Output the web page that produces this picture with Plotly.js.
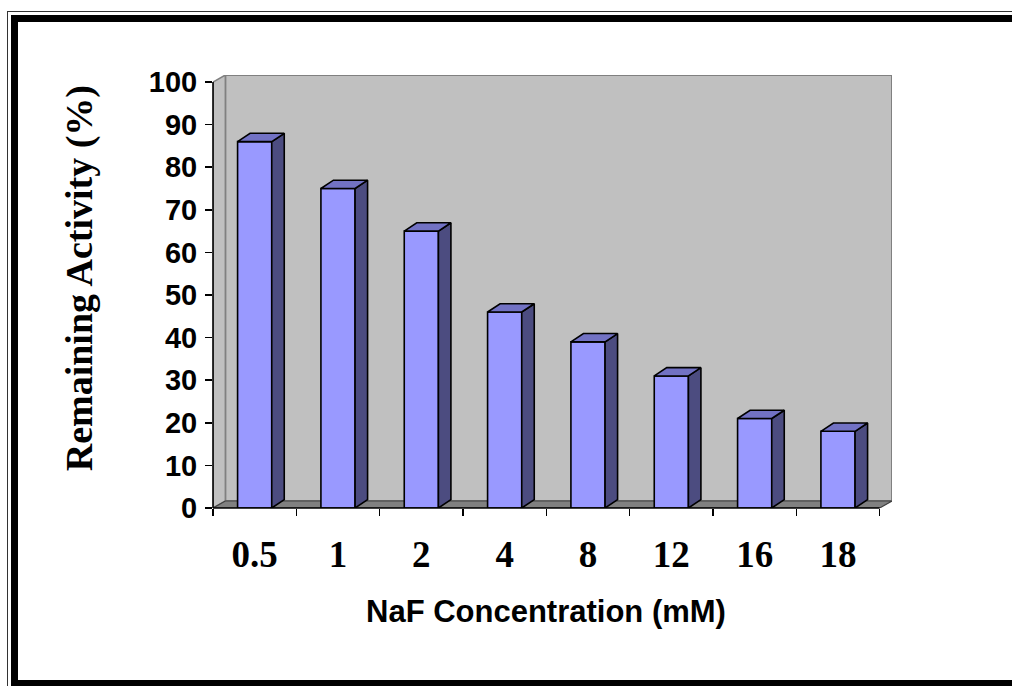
<!DOCTYPE html>
<html>
<head>
<meta charset="utf-8">
<script src="https://cdn.plot.ly/plotly-3.0.1.min.js"></script>
<style>
  html, body { margin:0; padding:0; background:#fff; overflow:hidden; }
  #chart { position:absolute; left:0; top:0; width:1012px; height:686px; }
  .f1 { position:absolute; left:7px; top:11px; width:1100px; height:720px; border:1.5px solid #333; box-sizing:border-box; pointer-events:none; }
  .f2 { position:absolute; left:11px; top:15px; width:1100px; height:672px; border:7px solid #000; box-sizing:border-box; pointer-events:none; }
</style>
</head>
<body>
<div id="chart"></div>
<div class="f1"></div>
<div class="f2"></div>
<script>
// ---- data ----
const categories = ['0.5', '1', '2', '4', '8', '12', '16', '18'];
const activity = [86, 75, 65, 46, 39, 31, 21, 18];
const yTicks = [0, 10, 20, 30, 40, 50, 60, 70, 80, 90, 100];

// ---- geometry (styling constants) ----
const BW = 0.41;     // bar front width (category units)
const BDX = 0.15;    // bar depth offset x
const BDY = 1.95;    // bar depth offset y
const WDX = 0.148;   // wall depth offset x
const WDY = 1.64;    // wall depth offset y
const YMAX = 100;
const xr = [-0.5, categories.length - 0.5 + WDX];
const yr = [0, YMAX + WDY];

const idx = categories.map((_, i) => i);

// side and top faces of the 3-D bars, built from the data
const sideX = [], sideY = [], topX = [], topY = [];
idx.forEach((i) => {
  const v = activity[i];
  const xl = i - BW / 2, xR = i + BW / 2;
  sideX.push(xR, xR + BDX, xR + BDX, xR, xR, null);
  sideY.push(0, BDY, v + BDY, v, 0, null);
  topX.push(xl, xl + BDX, xR + BDX, xR, xl, null);
  topY.push(v, v + BDY, v + BDY, v, v, null);
});

const traces = [
  {
    type: 'bar', x: idx, y: activity, width: BW,
    marker: { color: '#9999FF', line: { color: '#000', width: 1.6 } },
    hoverinfo: 'skip', showlegend: false
  },
  {
    type: 'scatter', mode: 'lines', x: sideX, y: sideY, fill: 'toself',
    fillcolor: '#4C4C80', line: { color: '#000', width: 1.6 },
    hoverinfo: 'skip', showlegend: false
  },
  {
    type: 'scatter', mode: 'lines', x: topX, y: topY, fill: 'toself',
    fillcolor: '#7272C4', line: { color: '#000', width: 1.6 },
    hoverinfo: 'skip', showlegend: false
  }
];

const x0 = -0.5, x1 = categories.length - 0.5;
const shapes = [
  // back wall
  { type: 'rect', xref: 'x', yref: 'y', layer: 'below',
    x0: x0 + WDX, x1: x1 + WDX, y0: WDY, y1: YMAX + WDY,
    fillcolor: '#C0C0C0', line: { color: '#808080', width: 2 } },
  // left side wall
  { type: 'path', xref: 'x', yref: 'y', layer: 'below',
    path: `M ${x0},0 L ${x0},${YMAX} L ${x0 + WDX},${YMAX + WDY} L ${x0 + WDX},${WDY} Z`,
    fillcolor: '#C0C0C0', line: { color: '#808080', width: 1.5 } },
  // floor
  { type: 'path', xref: 'x', yref: 'y', layer: 'below',
    path: `M ${x0},0 L ${x1},0 L ${x1 + WDX},${WDY} L ${x0 + WDX},${WDY} Z`,
    fillcolor: '#808080', line: { color: '#404040', width: 1.2 } },
  // y axis line
  { type: 'line', xref: 'paper', yref: 'paper', layer: 'above',
    x0: 0, x1: 0, y0: 0, y1: YMAX / yr[1],
    line: { color: '#000', width: 1.6 } },
  // x axis line
  { type: 'line', xref: 'paper', yref: 'paper', layer: 'above',
    x0: 0, x1: (x1 - xr[0]) / (xr[1] - xr[0]), y0: 0, y1: 0,
    line: { color: '#000', width: 1.6 } }
];

const layout = {
  width: 1012, height: 686,
  margin: { l: 213, r: 120, t: 75, b: 178, pad: 0 },
  paper_bgcolor: '#fff', plot_bgcolor: 'rgba(0,0,0,0)',
  showlegend: false,
  bargap: 0,
  xaxis: {
    range: xr, showgrid: false, zeroline: false, showline: false,
    tickmode: 'array', tickvals: idx, ticktext: categories,
    ticks: '', ticklabelstandoff: 21,
    tickfont: { family: 'Liberation Serif, Times New Roman, serif', size: 37, weight: 'bold', color: '#000' },
    minor: { ticks: 'outside', tick0: -0.5, dtick: 1, ticklen: 7, tickwidth: 1.6, tickcolor: '#000', showgrid: false },
    fixedrange: true
  },
  yaxis: {
    range: yr, showgrid: false, zeroline: false, showline: false,
    tickmode: 'array', tickvals: yTicks,
    ticks: 'outside', ticklen: 7, tickwidth: 1.6, tickcolor: '#000',
    ticklabelstandoff: 2,
    tickfont: { family: 'Liberation Sans, Arial, sans-serif', size: 29, weight: 'bold', color: '#000' },
    fixedrange: true
  },
  shapes: shapes,
  annotations: [
    { text: 'NaF Concentration (mM)', xref: 'x', yref: 'paper', x: (x0 + x1) / 2, y: -0.238,
      xanchor: 'center', yanchor: 'middle', showarrow: false,
      font: { family: 'Liberation Sans, Arial, sans-serif', size: 31, weight: 'bold', color: '#000' } },
    { text: 'Remaining Activity (%)', xref: 'paper', yref: 'paper', x: -0.197, y: 0.531,
      xanchor: 'center', yanchor: 'middle', textangle: -90, showarrow: false,
      font: { family: 'Liberation Serif, Times New Roman, serif', size: 38, weight: 'bold', color: '#000' } }
  ]
};

Plotly.newPlot('chart', traces, layout, { displayModeBar: false, staticPlot: true });
</script>
</body>
</html>
